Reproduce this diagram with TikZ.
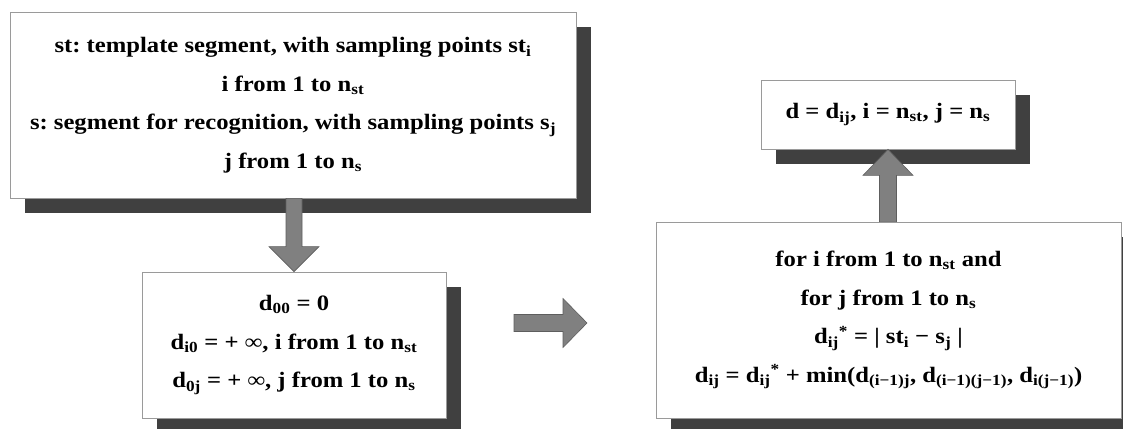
\documentclass[tikz,border=0pt]{standalone}
\usepackage{fontspec}
\setmainfont[FakeStretch=1.12]{Liberation Serif}
\usetikzlibrary{calc,shadows}
\frenchspacing
\definecolor{shadowgray}{HTML}{404040}
\definecolor{bordergray}{HTML}{9A9A9A}
\definecolor{arrowgray}{HTML}{808080}
\definecolor{arrowedge}{HTML}{5E5E5E}
\begin{document}
\begin{tikzpicture}[x=1pt,y=1pt,
  box/.style={draw=bordergray, line width=0.8pt, fill=white, align=center,
    inner sep=0pt, font=\fontsize{22}{38.5}\selectfont\bfseries\frenchspacing,
    drop shadow={shadow xshift=15pt, shadow yshift=-15pt, fill=shadowgray, opacity=1}},
  blockarrow/.style={fill=arrowgray, draw=arrowedge, line width=0.6pt}]
\useasboundingbox (0,0) rectangle (1123,428);
\clip (0,0) rectangle (1123,428);

\node[box, minimum width=566pt, minimum height=186pt] (init) at (293,323)
 {st: template segment, with sampling points st\textsubscript{i}\\
  i from 1 to n\textsubscript{st}\\
  s: segment for recognition, with sampling points s\textsubscript{j}\\
  j from 1 to n\textsubscript{s}};

\node[box, minimum width=304pt, minimum height=146pt] (bound) at (294,83)
 {d\textsubscript{00} = 0\\
  d\textsubscript{i0} = + ∞, i from 1 to n\textsubscript{st}\\
  d\textsubscript{0j} = + ∞, j from 1 to n\textsubscript{s}};

\node[box, minimum width=465pt, minimum height=196pt] (loop) at (888.5,108)
 {for i from 1 to n\textsubscript{st} and\\
  for j from 1 to n\textsubscript{s}\\
  d\textsubscript{ij}\textsuperscript{*} = | st\textsubscript{i} − s\textsubscript{j} |\\
  d\textsubscript{ij} = d\textsubscript{ij}\textsuperscript{*} + min(d\textsubscript{(i−1)j}, d\textsubscript{(i−1)(j−1)}, d\textsubscript{i(j−1)})};

\node[box, minimum width=254pt, minimum height=69pt] (result) at (888,313.5)
 {d = d\textsubscript{ij}, i = n\textsubscript{st}, j = n\textsubscript{s}};

% down arrow: init -> bound
\draw[blockarrow] ($(bound.north|-init.south)+(-8,0)$) -- ($(bound.north)+(-8,25)$)
  -- ($(bound.north)+(-25,25)$) -- (bound.north) -- ($(bound.north)+(25,25)$)
  -- ($(bound.north)+(8,25)$) -- ($(bound.north|-init.south)+(8,0)$) -- cycle;

% right arrow between bound and loop
\coordinate (rstart) at (514,105);
\coordinate (rtip) at (587,105);
\draw[blockarrow] ($(rstart)+(0,8.5)$) -- ($(rtip)+(-24,8.5)$) -- ($(rtip)+(-24,24.5)$)
  -- (rtip) -- ($(rtip)+(-24,-24.5)$) -- ($(rtip)+(-24,-8.5)$) -- ($(rstart)+(0,-8.5)$) -- cycle;

% up arrow: loop -> result
\draw[blockarrow] ($(result.south|-loop.north)+(-8.5,0)$) -- ($(result.south)+(-8.5,-26)$)
  -- ($(result.south)+(-25,-26)$) -- (result.south) -- ($(result.south)+(25,-26)$)
  -- ($(result.south)+(8.5,-26)$) -- ($(result.south|-loop.north)+(8.5,0)$) -- cycle;
\end{tikzpicture}
\end{document}
